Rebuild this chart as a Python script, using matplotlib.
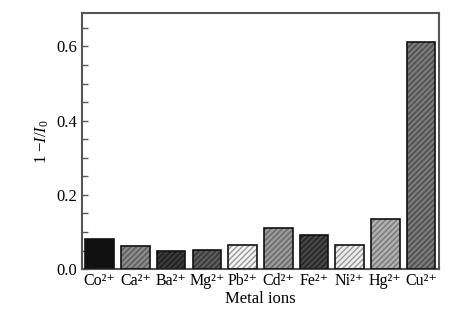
import numpy as np
import matplotlib.pyplot as plt

plt.rcParams['font.family'] = ['Liberation Serif', 'DejaVu Serif']
plt.rcParams['mathtext.fontset'] = 'custom'
plt.rcParams['mathtext.rm'] = 'Liberation Serif'
plt.rcParams['mathtext.it'] = 'Liberation Serif:italic'

# data
ions = ['Co', 'Ca', 'Ba', 'Mg', 'Pb', 'Cd', 'Fe', 'Ni', 'Hg', 'Cu']
quench = [0.082, 0.063, 0.049, 0.052, 0.066, 0.112, 0.093, 0.064, 0.134, 0.612]
fills = ['#111111', '#8a8a8a', '#3a3a3a', '#5c5c5c', '#f4f4f4',
         '#9a9a9a', '#464646', '#eeeeee', '#b0b0b0', '#7a7a7a']
hatch_cols = ['#111111', '#5a5a5a', '#1a1a1a', '#333333', '#9a9a9a',
              '#666666', '#222222', '#999999', '#777777', '#4a4a4a']

fig = plt.figure(figsize=(4.73, 3.25), dpi=100)
ax = fig.add_axes([0.173, 0.172, 0.755, 0.788])

x = np.arange(len(ions))
for i in range(len(ions)):
    ax.bar(x[i], quench[i], width=0.8, color=fills[i], edgecolor=hatch_cols[i],
           hatch='//////' if i > 0 else None, linewidth=0, zorder=2)
ax.bar(x, quench, width=0.8, fill=False, edgecolor='#111111', linewidth=1.2, zorder=3)

ax.set_xlim(-0.5, 9.5)
ax.set_ylim(0, 0.69)
ax.set_xticks(x)
ax.set_xticklabels([n + '²⁺' for n in ions], fontsize=11.5)
ax.set_yticks([0.0, 0.2, 0.4, 0.6])
ax.set_yticks(np.arange(0, 0.69, 0.05), minor=True)
ax.set_yticklabels(['0.0', '0.2', '0.4', '0.6'], fontsize=12)
ax.tick_params(axis='x', length=0, pad=3)
ax.tick_params(axis='y', which='both', direction='in', length=4, width=1, color='#555555')
ax.set_xlabel('Metal ions', fontsize=12, labelpad=1)
ax.set_ylabel(r'1 $-$$I$/$I_0$', fontsize=12)
for s in ax.spines.values():
    s.set_color('#555555')
    s.set_linewidth(1.5)

fig.savefig('out.png', dpi=100)
